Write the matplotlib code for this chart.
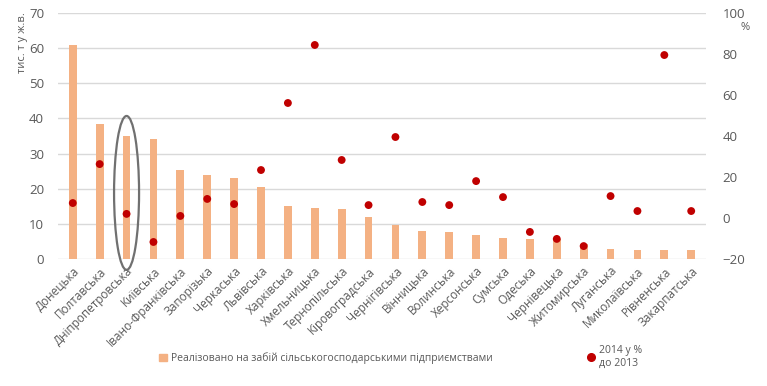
import matplotlib
matplotlib.use("Agg")
import matplotlib.pyplot as plt
from matplotlib.patches import Ellipse
from matplotlib.lines import Line2D
from matplotlib.patches import Patch

regions = ["Донецька", "Полтавська", "Дніпропетровська", "Київська", "Івано-Франківська",
           "Запорізька", "Черкаська", "Львівська", "Харківська", "Хмельницька",
           "Тернопільська", "Кіровоградська", "Чернігівська", "Вінницька", "Волинська",
           "Херсонська", "Сумська", "Одеська", "Чернівецька", "Житомирська",
           "Луганська", "Миколаївська", "Рівненська", "Закарпатська"]
sold = [61.0, 38.4, 35.0, 34.1, 25.3, 23.9, 23.0, 20.4, 15.1, 14.5,
        14.2, 12.0, 9.7, 8.0, 7.7, 6.8, 6.0, 5.7, 5.6, 4.3,
        2.8, 2.6, 2.6, 2.6]
pct = [7.3, 26.3, 2.0, -11.7, 1.0, 9.3, 6.8, 23.4, 56.1, 84.4,
       28.3, 6.3, 39.5, 7.8, 6.3, 18.0, 10.2, -6.8, -10.2, -13.7,
       10.7, 3.4, 79.5, 3.4]

bar_label = "Реалізовано на забій сільськогосподарськими підприємствами"
dot_label = "2014 у %\nдо 2013"

plt.rcParams['font.family'] = ['Open Sans', 'DejaVu Sans']
grey = "#595959"
bar_color = "#f4b183"
dot_color = "#c00000"

fig = plt.figure(figsize=(7.67, 3.86), dpi=100)
ax = fig.add_axes([58/767, 1-259/386, (706-58)/767, (259-13)/386])
x = list(range(len(regions)))
ax.bar(x, sold, width=0.29, color=bar_color, zorder=2)
ax.set_ylim(0, 70)
ax.set_xlim(-0.55, len(regions) - 0.45)
ax.set_yticks(range(0, 71, 10))
ax.grid(axis='y', color='#d9d9d9', lw=1, zorder=0)
for s in ax.spines.values():
    s.set_visible(False)
ax.tick_params(axis='y', length=0, labelsize=9.5, labelcolor=grey, pad=10)
ax.tick_params(axis='x', length=0, labelsize=8.5, labelcolor=grey, pad=4)
ax.set_xticks(x)
ax.set_xticklabels(regions, rotation=45, ha='right', rotation_mode='anchor')

ax2 = ax.twinx()
ax2.scatter(x, pct, s=32, color=dot_color, zorder=3, edgecolors='none')
ax2.set_ylim(-20, 100)
ax2.set_yticks(range(-20, 101, 20))
for s in ax2.spines.values():
    s.set_visible(False)
ax2.tick_params(axis='y', length=0, labelsize=9.5, labelcolor=grey, pad=12)

ell = Ellipse((2, 18.8), width=0.93, height=43.8, fill=False, edgecolor='#707070',
              lw=1.6, clip_on=False, zorder=5)
ax.add_patch(ell)

fig.text(23/767, 1-12/386, "тис. т у ж.в.", rotation=90, ha='center', va='top',
         fontsize=8, color=grey)
fig.text(745/767, 1-28/386, "%", ha='center', va='center', fontsize=8, color=grey)

handles = [Patch(color=bar_color), Line2D([], [], marker='o', ls='none', color=dot_color,
                                          markersize=5.5)]
fig.legend(handles, [bar_label, dot_label], ncol=2, loc='center',
           bbox_to_anchor=(0.522, 0.075), frameon=False, fontsize=7.5,
           labelcolor=grey, columnspacing=9.0, handlelength=0.8, handletextpad=0.4)

fig.savefig("out.png", dpi=100)
